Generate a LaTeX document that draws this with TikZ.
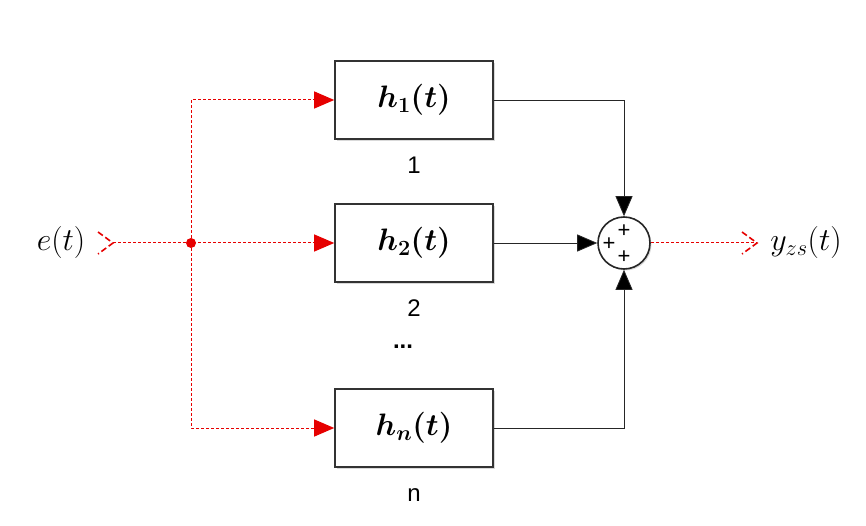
\RequirePackage{fix-cm}
\documentclass[tikz,border=0pt]{standalone}
\usepackage{fontspec}
\newfontfamily\arialfont{Liberation Sans}
\usepackage{tikz}
\usetikzlibrary{calc}
\usetikzlibrary{shadows}
\usetikzlibrary{arrows.meta}

\definecolor{sigred}{RGB}{230,0,0}

\begin{document}
\begin{tikzpicture}[x=1pt, y=-1pt,
        block/.style={draw=black!80, line width=1.6pt, fill=white,
            minimum width=158pt, minimum height=78pt, inner sep=0pt,
            drop shadow={shadow xshift=1.8pt, shadow yshift=-1.8pt, opacity=0.3},
            font=\fontsize{31}{38}\selectfont\boldmath},
        sumblock/.style={circle, draw=black!85, line width=1.6pt, fill=white,
            minimum size=52pt, inner sep=0pt,
            drop shadow={shadow xshift=1.5pt, shadow yshift=-1.5pt, opacity=0.3}},
        sigtext/.style={inner sep=0pt, font=\fontsize{32}{38}\selectfont},
        numlbl/.style={inner sep=0pt, anchor=base, font=\arialfont\fontsize{24}{26}\selectfont},
        plus/.style={inner sep=0pt, font=\arialfont\fontsize{22}{22}\selectfont},
        wire/.style={black!85, line width=0.8pt, -{Triangle[length=20pt, width=17pt, fill=black]}},
        redwire/.style={sigred, line width=1pt, dash pattern=on 3pt off 2pt},
        redport/.style={sigred, line width=1.6pt, dash pattern=on 6pt off 3pt},
        redarrow/.style={redwire, -{Triangle[length=20pt, width=17pt]}}]
        \useasboundingbox (0,0) rectangle (866,526);

        % blocks
        \node (b1) at (414,100) [block] {$h_1(t)$};
        \node (b2) at (414,243) [block] {$h_2(t)$};
        \node (bn) at (414,428) [block] {$h_n(t)$};

        \node (l1) at ([yshift=-34pt]b1.south) [numlbl] {1};
        \node (l2) at ([yshift=-34pt]b2.south) [numlbl] {2};
        \node (ldots) at ([xshift=-11pt, yshift=-66pt]b2.south) [numlbl] {\textbf{...}};
        \node (ln) at ([yshift=-34pt]bn.south) [numlbl] {n};

        % sum
        \node (sum) at (624,243) [sumblock] {};
        \node (p1) at ($(sum)+(0,-12)$) [plus] {+};
        \node (p2) at ($(sum)+(-15,1)$) [plus] {+};
        \node (p3) at ($(sum)+(0,14)$) [plus] {+};

        % ports
        \coordinate (in) at (113,243);
        \coordinate (out) at (757,243);
        \coordinate (split) at (191,243);
        \node (etxt) at (61,243) [sigtext] {$e(t)$};
        \node (ytxt) at (806,243) [sigtext] {$y_{zs}(t)$};
        \draw [redport] ($(in)+(-15,-11)$) -- (in) -- ($(in)+(-15,11)$);
        \draw [redport] ($(out)+(-15,-11)$) -- (out) -- ($(out)+(-15,11)$);

        % input branches
        \draw [redarrow] (in) -- (b2.west);
        \draw [redarrow] (split) |- (b1.west);
        \draw [redarrow] (split) |- (bn.west);
        \fill [sigred] (split) circle (5pt);

        % to the sum
        \draw [wire] (b1.east) -| (sum.north);
        \draw [wire] (b2.east) -- (sum.west);
        \draw [wire] (bn.east) -| (sum.south);
        \draw [redwire] (sum.east) -- (out);
    \end{tikzpicture}
\end{document}
